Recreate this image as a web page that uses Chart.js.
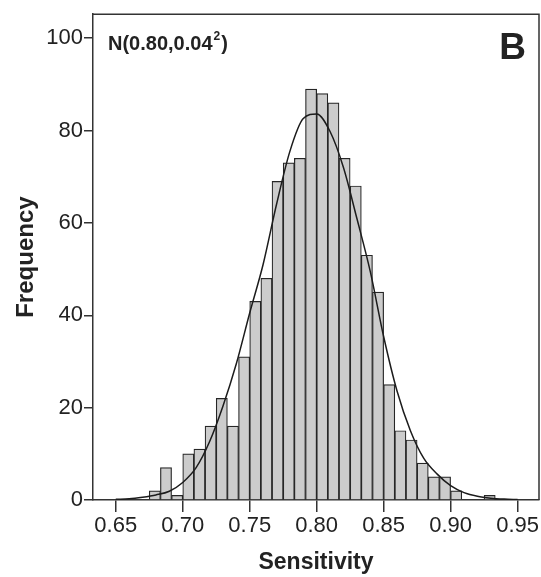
<!DOCTYPE html>
<html>
<head>
<meta charset="utf-8">
<script src="https://cdn.jsdelivr.net/npm/chart.js@4/dist/chart.umd.min.js"></script>
<style>
  html, body { margin: 0; padding: 0; background: #ffffff; }
  #wrap { width: 541px; height: 577px; }
</style>
</head>
<body>
<div id="wrap"><canvas id="c" width="541" height="577"></canvas></div>
<script>
// Histogram bins (centres, width 1/120) and frequencies
const binCenters = [0.679167, 0.6875, 0.695833, 0.704167, 0.7125, 0.720833, 0.729167, 0.7375,
  0.745833, 0.754167, 0.7625, 0.770833, 0.779167, 0.7875, 0.795833, 0.804167, 0.8125,
  0.820833, 0.829167, 0.8375, 0.845833, 0.854167, 0.8625, 0.870833, 0.879167, 0.8875,
  0.895833, 0.904167, 0.9125, 0.920833, 0.929167];
const frequencies = [2, 7, 1, 10, 11, 16, 22, 16, 31, 43, 48, 69, 73, 74, 89, 88, 86,
  74, 68, 53, 45, 25, 15, 13, 8, 5, 5, 2, 0, 0, 1];

// Fitted normal curve
const curveX = [0.65, 0.66, 0.67, 0.68, 0.69, 0.70, 0.71, 0.72, 0.73, 0.74, 0.75, 0.76, 0.77,
  0.78, 0.79, 0.80, 0.81, 0.82, 0.83, 0.84, 0.85, 0.86, 0.87, 0.88, 0.89, 0.90, 0.91, 0.92,
  0.93, 0.94, 0.95];
const curveY = [0.15, 0.25, 0.6, 1.1, 1.9, 3.8, 7.0, 12.6, 20.3, 29.5, 40.5, 51, 64,
  75.5, 82.6, 83.6, 79.8, 72, 61, 49.5, 35.4, 23.6, 15, 9, 5.6, 3.1, 1.6, 0.8,
  0.4, 0.2, 0.1];

// Axis ticks
const xTicks = [0.65, 0.70, 0.75, 0.80, 0.85, 0.90, 0.95];
const yTicks = [0, 20, 40, 60, 80, 100];

const xLabel = 'Sensitivity';
const yLabel = 'Frequency';
const distLabelMain = 'N(0.80,0.04';
const distLabelSup = '2';
const distLabelEnd = ')';
const panelLabel = 'B';

const FONT = '"Liberation Sans", Arial, Helvetica, sans-serif';
const INK = '#222222';
const AXIS = '#333333';

const frame = {
  id: 'frame',
  afterDraw(chart) {
    const { ctx, chartArea: a } = chart;
    ctx.save();
    ctx.strokeStyle = AXIS;
    ctx.lineWidth = 1.5;
    ctx.beginPath();
    ctx.moveTo(a.left, a.top);
    ctx.lineTo(a.right, a.top);
    ctx.lineTo(a.right, a.bottom);
    ctx.stroke();
    ctx.fillStyle = INK;
    ctx.textBaseline = 'alphabetic';
    ctx.textAlign = 'left';
    let tx = a.left + 15;
    const ty = a.top + 36;
    ctx.font = 'bold 20px ' + FONT;
    ctx.fillText(distLabelMain, tx, ty);
    tx += ctx.measureText(distLabelMain).width + 1;
    ctx.font = 'bold 12px ' + FONT;
    ctx.fillText(distLabelSup, tx, ty - 10);
    tx += ctx.measureText(distLabelSup).width + 1;
    ctx.font = 'bold 20px ' + FONT;
    ctx.fillText(distLabelEnd, tx, ty);
    ctx.textAlign = 'right';
    ctx.font = 'bold 37px ' + FONT;
    ctx.fillText(panelLabel, a.right - 13, a.top + 45);
    ctx.restore();
  }
};

new Chart(document.getElementById('c'), {
  data: {
    datasets: [
      {
        type: 'line',
        order: 0,
        data: curveX.map((x, i) => ({ x: x, y: curveY[i] })),
        borderColor: '#1c1c1c',
        borderWidth: 1.5,
        pointRadius: 0,
        fill: false,
        cubicInterpolationMode: 'monotone'
      },
      {
        type: 'bar',
        order: 1,
        data: binCenters.map((x, i) => ({ x: x, y: frequencies[i] })),
        backgroundColor: '#cccccc',
        borderColor: '#262626',
        borderWidth: 1.2,
        barPercentage: 1,
        categoryPercentage: 1
      }
    ]
  },
  options: {
    responsive: false,
    animation: false,
    devicePixelRatio: 1,
    layout: { padding: { top: 10, right: 2, left: 0, bottom: 0 } },
    plugins: { legend: { display: false }, tooltip: { enabled: false } },
    scales: {
      x: {
        type: 'linear',
        offset: false,
        min: 0.633,
        max: 0.966,
        afterBuildTicks: s => { s.ticks = xTicks.map(v => ({ value: v })); },
        afterFit: s => { s.height = 77; },
        border: { display: true, color: AXIS, width: 1.5 },
        grid: { display: true, offset: false, drawOnChartArea: false, drawTicks: true, tickLength: 12, color: AXIS, lineWidth: 1.5 },
        ticks: {
          autoSkip: false, maxRotation: 0, padding: 1,
          color: INK, font: { family: FONT, size: 22 },
          callback: v => Number(v).toFixed(2)
        },
        title: {
          display: true, text: xLabel, color: INK,
          font: { family: FONT, size: 23, weight: 'bold' },
          padding: { top: 0, bottom: 1 }
        }
      },
      y: {
        type: 'linear',
        min: 0,
        max: 105.2,
        afterBuildTicks: s => { s.ticks = yTicks.map(v => ({ value: v })); },
        afterFit: s => { s.width = 93; },
        border: { display: true, color: AXIS, width: 1.5 },
        grid: { display: true, drawOnChartArea: false, drawTicks: true, tickLength: 9, color: AXIS, lineWidth: 1.5 },
        ticks: {
          autoSkip: false, padding: 1,
          color: INK, font: { family: FONT, size: 22 }
        },
        title: {
          display: true, text: yLabel, color: INK,
          font: { family: FONT, size: 24, weight: 'bold' },
          padding: { top: 12, bottom: 0 }
        }
      }
    }
  },
  plugins: [frame]
});
</script>
</body>
</html>
